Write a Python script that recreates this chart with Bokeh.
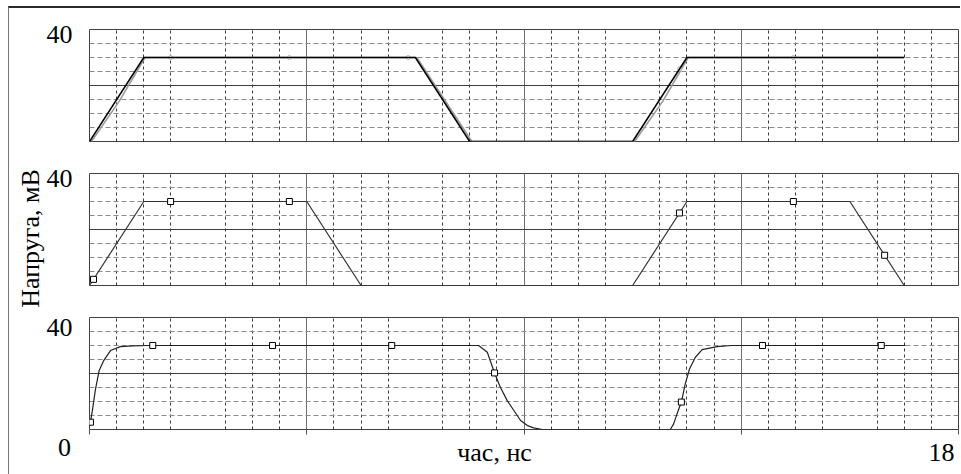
import math
from bokeh.plotting import figure
from bokeh.layouts import column, row
from bokeh.models import Range1d, FixedTicker, Grid, LinearAxis
from bokeh.core.properties import value
from bokeh.embed import file_html
from bokeh.resources import INLINE

# ---- data (time in ns, voltage in mV) ----
x_min, x_max = 0, 18
y_min, y_max = 0, 40

# panel 1: input pulses (black) and reference (grey)
p1_t = [0, 1.125, 6.75, 7.875, 11.25, 12.375, 16.875]
p1_v = [0, 30, 30, 0, 0, 30, 30]
p1g_t = [0.04, 0.62, 1.15, 6.78, 7.35, 7.92, 11.29, 11.88, 12.4, 16.875]
p1g_v = [0, 14.5, 30, 30, 15, 0, 0, 14.5, 30, 30]
p1g_mt = [1.68, 4.14, 6.6, 12.22, 14.58]
p1g_mv = [30, 30, 30, 26, 30]

# panel 2: trapezoid response
p2_t = [0, 1.125, 4.5, 5.625, 11.25, 12.375, 15.75, 16.875]
p2_v = [0, 30, 30, 0, 0, 30, 30, 0]
p2_mt = [0.083, 1.68, 4.14, 12.22, 14.58, 16.47]
p2_mv = [2.2, 30, 30, 25.9, 30, 10.8]

# panel 3: smoothed response
p3_t = [0.02, 0.06, 0.12, 0.2, 0.29, 0.435, 0.64, 0.9, 1.2,
        8.06, 8.24, 8.39, 8.51, 8.65, 8.79, 8.93, 9.07, 9.2, 9.38,
        12.03, 12.1, 12.17, 12.26, 12.34, 12.43, 12.55, 12.69, 13.0, 13.3, 16.9]
p3_v = [2.6, 6.8, 14, 21.1, 24.5, 28.2, 29.6, 29.9, 30,
        30, 27.6, 20.2, 15.1, 10.4, 6.8, 3.2, 1.4, 0.6, 0.0,
        0.0, 2.0, 5.6, 9.8, 16.3, 21.7, 25.8, 28.5, 29.6, 30, 30]
p3_mt = [0.02, 1.31, 3.79, 6.26, 8.39, 12.26, 13.94, 16.4]
p3_mv = [2.6, 30, 30, 30, 20.2, 9.8, 30, 30]

# grid ticks
x_major = [0, 4.5, 9, 13.5, 18]
x_minor = [i * 18 / 32 for i in range(33) if i % 4 != 0]
y_major = [0, 20, 40]
y_minor = [5, 10, 15, 25, 30, 35]

y_tick_label = "40"
x_start_label = "0"
x_end_label = "18"
x_title = "час, нс"
y_title = "Напруга, мВ"

FONT = "Liberation Serif"
FS = "26px"
W = 871          # width of panel figures (frame 869 px)
LW = 80          # width of left text column
H_TOTAL = 466
H1, H2, H3 = 149, 144, 136


def make_fig(height, top, bottom):
    p = figure(width=W, height=height, output_backend="svg", toolbar_location=None,
               x_range=Range1d(x_min, x_max), y_range=Range1d(y_min, y_max),
               x_axis_location=None, y_axis_location=None,
               min_border_left=0, min_border_right=2,
               min_border_top=top, min_border_bottom=bottom)
    p.grid.visible = False
    p.outline_line_color = "#404040"
    p.outline_line_width = 1
    p.background_fill_color = "white"
    p.border_fill_color = "white"
    gx = Grid(dimension=0, ticker=FixedTicker(ticks=x_major, minor_ticks=x_minor),
              grid_line_color="#707070", grid_line_width=1,
              minor_grid_line_color="#3a3a3a", minor_grid_line_dash="3 3",
              minor_grid_line_width=1)
    gy = Grid(dimension=1, ticker=FixedTicker(ticks=y_major, minor_ticks=y_minor),
              grid_line_color="#404040", grid_line_width=1,
              minor_grid_line_color="#8a8a8a", minor_grid_line_dash="5 3",
              minor_grid_line_width=1)
    p.add_layout(gx)
    p.add_layout(gy)
    return p


f1 = make_fig(H1, 21, 16)
f1.line(p1g_t, p1g_v, line_color="#9a9a9a", line_width=1.6)
f1.scatter(p1g_mt, p1g_mv, marker="circle", size=4, fill_color="white",
           line_color="#b8b8b8", line_width=1)
f1.line(p1_t, p1_v, line_color="black", line_width=1.5)

f2 = make_fig(H2, 16, 16)
f2.x_range = f1.x_range
f2.line(p2_t, p2_v, line_color="#333333", line_width=1.2)
f2.scatter(p2_mt, p2_mv, marker="square", size=6, fill_color="white",
           line_color="black", line_width=1)

f3 = make_fig(H3, 16, 8)
f3.x_range = f1.x_range
f3.line(p3_t, p3_v, line_color="#222222", line_width=1.2)
f3.scatter(p3_mt, p3_mv, marker="square", size=6, fill_color="white",
           line_color="black", line_width=1)
ax = LinearAxis(ticker=FixedTicker(ticks=x_major), major_tick_out=5, major_tick_in=0,
                minor_tick_out=0, minor_tick_in=0, axis_line_color=None,
                major_tick_line_color="#555555", major_label_text_font_size="1px",
                major_label_overrides={t: "" for t in x_major},
                major_label_standoff=0)
f3.add_layout(ax, "below")

# bottom strip with x texts (shares the time axis)
fb = figure(width=W, height=H_TOTAL - H1 - H2 - H3, output_backend="svg",
            toolbar_location=None, x_range=f1.x_range, y_range=Range1d(0, 1),
            x_axis_location=None, y_axis_location=None,
            min_border_left=0, min_border_right=2, min_border_top=0, min_border_bottom=0)
fb.grid.visible = False
fb.outline_line_color = None
fb.text(x=[8.39], y=[0.595], text=[x_title], text_align="center", text_baseline="middle",
        text_font=value(FONT), text_font_size=FS, text_color="black")
fb.text(x=[17.65], y=[0.595], text=[x_end_label], text_align="center", text_baseline="middle",
        text_font=value(FONT), text_font_size=FS, text_color="black")

# left text column (pixel coordinates, origin at bottom-left)
ft = figure(width=LW, height=H_TOTAL, output_backend="svg", toolbar_location=None,
            x_range=Range1d(0, LW), y_range=Range1d(0, H_TOTAL),
            x_axis_location=None, y_axis_location=None,
            min_border_left=0, min_border_right=0, min_border_top=0, min_border_bottom=0)
ft.grid.visible = False
ft.outline_line_color = None
ft.text(x=[63, 63, 63], y=[440, 296, 147], text=[y_tick_label] * 3,
        text_align="right", text_baseline="middle",
        text_font=value(FONT), text_font_size=FS, text_color="black")
ft.text(x=[55], y=[27], text=[x_start_label], text_align="center", text_baseline="middle",
        text_font=value(FONT), text_font_size=FS, text_color="black")
ft.text(x=[21], y=[236], text=[y_title], angle=math.pi / 2, text_align="center",
        text_baseline="middle", text_font=value(FONT), text_font_size=FS,
        text_color="black")

layout = row(ft, column(f1, f2, f3, fb, spacing=0), spacing=0,
             margin=(6, 0, 0, 8),
             styles={"border-top": "2px solid #2a2a2a", "border-left": "1px solid #777777"})

open("out.html", "w").write(file_html(layout, INLINE))
